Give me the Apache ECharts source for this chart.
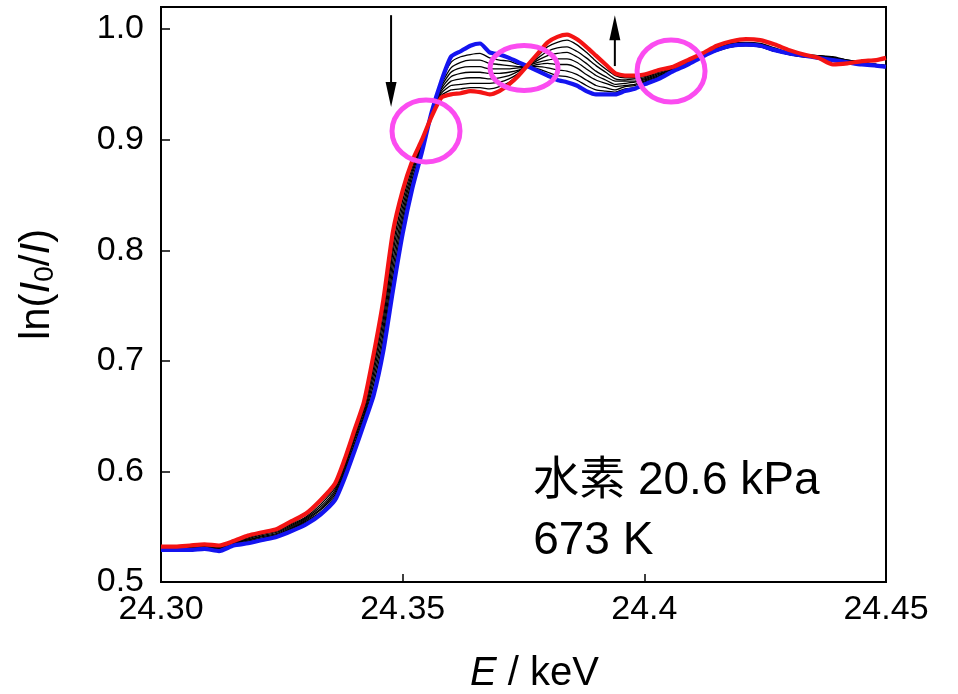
<!DOCTYPE html>
<html>
<head>
<meta charset="utf-8">
<script src="https://cdn.jsdelivr.net/npm/echarts@6/dist/echarts.min.js"></script>
<style>
  html, body { margin: 0; padding: 0; background: #fff; }
  #chart { width: 958px; height: 694px; }
</style>
</head>
<body>
<div id="chart"></div>
<script>
// Photon energy grid (keV)
const energy = [
  24.300, 24.303, 24.306, 24.309, 24.312, 24.315, 24.318, 24.321, 24.324, 24.327, 24.330, 24.333, 24.336,
  24.338, 24.340, 24.342, 24.344, 24.346, 24.348, 24.350, 24.352, 24.354, 24.356,
  24.358, 24.360, 24.362, 24.364, 24.366, 24.368, 24.370, 24.372, 24.374, 24.376,
  24.378, 24.380, 24.382, 24.384, 24.386, 24.388, 24.390, 24.392, 24.394, 24.396,
  24.398, 24.400,
  24.403, 24.406, 24.409, 24.412, 24.415, 24.418, 24.421, 24.424, 24.427, 24.430,
  24.433, 24.436, 24.439, 24.442, 24.445, 24.448, 24.450
];

// ln(I0/I) — first spectrum of the series (blue)
const scan0 = [
  .529, .529, .529, .530, .528, .533, .535, .538, .541, .546, .552, .561, .574,
  .594, .618, .643, .669, .709, .764, .815, .856, .889, .925,
  .953, .975, .980, .985, .987, .979, .977, .974, .970, .966,
  .962, .958, .954, .952, .949, .944, .941, .941, .941, .944,
  .946, .950,
  .955, .962, .968, .975, .981, .985, .986, .985, .981, .978,
  .976, .974, .972, .970, .968, .967, .966
];
// intermediate spectra (black)
const scan1 = [
  .529, .529, .530, .530, .529, .533, .536, .539, .542, .547, .554, .562, .576,
  .597, .620, .645, .674, .714, .770, .820, .859, .890, .924,
  .952, .970, .975, .977, .978, .974, .972, .971, .968, .966,
  .964, .961, .958, .957, .954, .949, .945, .944, .943, .946,
  .947, .951,
  .956, .962, .968, .975, .980, .984, .985, .984, .980, .977,
  .975, .974, .973, .970, .968, .966, .965
];
const scan2 = [
  .530, .529, .530, .531, .529, .534, .536, .539, .542, .548, .555, .563, .577,
  .599, .623, .648, .679, .720, .777, .825, .862, .892, .924,
  .950, .965, .970, .972, .972, .969, .968, .967, .966, .966,
  .966, .965, .963, .962, .959, .954, .949, .947, .945, .948,
  .949, .952,
  .957, .963, .969, .976, .981, .984, .985, .984, .980, .977,
  .975, .975, .973, .971, .968, .967, .966
];
const scan3 = [
  .530, .530, .530, .531, .530, .534, .537, .540, .543, .549, .556, .565, .579,
  .601, .625, .650, .684, .726, .784, .830, .865, .893, .923,
  .948, .961, .965, .966, .966, .964, .964, .964, .965, .966,
  .968, .969, .968, .968, .965, .959, .954, .951, .948, .949,
  .950, .953,
  .958, .963, .969, .976, .981, .985, .986, .985, .981, .978,
  .976, .975, .973, .971, .969, .967, .966
];
const scan4 = [
  .530, .530, .531, .531, .530, .535, .538, .541, .544, .550, .557, .566, .581,
  .603, .628, .652, .689, .732, .791, .835, .869, .895, .923,
  .946, .957, .960, .961, .961, .960, .960, .961, .963, .967,
  .970, .972, .973, .973, .970, .964, .958, .954, .950, .951,
  .952, .954,
  .959, .964, .970, .976, .982, .985, .986, .985, .981, .978,
  .976, .975, .974, .971, .969, .967, .966
];
const scan5 = [
  .530, .530, .531, .532, .531, .535, .538, .542, .545, .551, .558, .568, .583,
  .605, .630, .655, .694, .738, .798, .840, .872, .896, .922,
  .944, .953, .955, .956, .956, .955, .956, .958, .962, .967,
  .972, .976, .978, .979, .975, .969, .962, .957, .953, .953,
  .953, .955,
  .960, .964, .970, .977, .982, .986, .987, .986, .982, .978,
  .976, .976, .974, .972, .970, .968, .967
];
const scan6 = [
  .531, .531, .531, .532, .531, .536, .539, .543, .546, .552, .559, .570, .585,
  .607, .632, .657, .698, .744, .804, .845, .875, .897, .922,
  .942, .949, .950, .951, .951, .951, .952, .955, .960, .967,
  .974, .980, .983, .984, .980, .974, .967, .961, .955, .954,
  .955, .956,
  .961, .965, .971, .977, .983, .986, .987, .986, .982, .979,
  .977, .976, .974, .972, .970, .968, .967
];
const scan7 = [
  .531, .531, .532, .533, .532, .536, .540, .544, .547, .553, .561, .572, .587,
  .609, .635, .660, .702, .750, .811, .850, .878, .899, .921,
  .940, .945, .946, .947, .947, .946, .948, .952, .959, .968,
  .976, .984, .988, .990, .986, .979, .971, .964, .958, .956,
  .956, .957,
  .962, .965, .971, .977, .983, .987, .988, .987, .983, .979,
  .977, .976, .975, .972, .970, .968, .967
];
// last spectrum of the series (red)
const scan8 = [
  .532, .532, .533, .534, .533, .537, .542, .545, .548, .555, .562, .574, .589,
  .611, .637, .663, .706, .755, .817, .854, .881, .900, .921,
  .938, .941, .942, .944, .943, .941, .944, .950, .958, .968,
  .978, .988, .993, .995, .991, .984, .976, .968, .960, .958,
  .958, .959,
  .963, .966, .972, .978, .985, .989, .991, .990, .986, .981,
  .977, .974, .968, .969, .971, .972, .974
];

// axis ticks
const xTickValues = [24.30, 24.35, 24.40, 24.45];
const xTickLabels = ['24.30', '24.35', '24.4', '24.45'];
const yTickLabels = ['0.5', '0.6', '0.7', '0.8', '0.9', '1.0'];

// condition text
const noteLines = ['水素 20.6 kPa', '673 K'];
const noteAnchors = [[24.377, 0.591], [24.377, 0.537]];

// arrows showing the direction of change: [energy, tail value, head value]
const arrows = [[24.3476, 1.0126, 0.9296], [24.3939, 0.9666, 1.0126]];
// crossing points of the spectra: [energy, value]
const rings = [[24.35483, 0.9079], [24.37511, 0.9648], [24.40553, 0.9621]];

const FONT = '"Liberation Sans", Arial, "Noto Sans CJK JP", sans-serif';

const chart = echarts.init(document.getElementById('chart'), null, { renderer: 'canvas' });

const blacks = [scan1, scan2, scan3, scan4, scan5, scan6, scan7];
const series = [];
blacks.forEach((arr, k) => {
  series.push({
    name: 'scan' + (k + 1), type: 'line', showSymbol: false, silent: true, smooth: 0.2,
    data: energy.map((e, i) => [e, arr[i]]),
    lineStyle: { color: '#000', width: 1.3 }, z: 2
  });
});
series.push({
  name: 'scan0', type: 'line', showSymbol: false, silent: true, smooth: 0.2,
  data: energy.map((e, i) => [e, scan0[i]]),
  lineStyle: { color: '#1414f0', width: 4.2 }, z: 3
});
series.push({
  name: 'scan8', type: 'line', showSymbol: false, silent: true, smooth: 0.2,
  data: energy.map((e, i) => [e, scan8[i]]),
  lineStyle: { color: '#f41414', width: 4.2 }, z: 4
});

chart.setOption({
  animation: false,
  backgroundColor: '#fff',
  grid: {
    left: 161, right: 72, top: 7, bottom: 112,
    show: true, borderColor: '#000', borderWidth: 2,
    outerBoundsMode: 'none'
  },
  xAxis: {
    type: 'value', min: 24.30, max: 24.45, interval: 0.05,
    splitLine: { show: false },
    axisLine: { show: true, lineStyle: { color: '#000', width: 2 } },
    axisTick: { show: true, inside: true, length: 8, lineStyle: { color: '#000', width: 1.5 } },
    axisLabel: {
      color: '#000', fontFamily: FONT, fontSize: 34, margin: 11,
      showMinLabel: true, showMaxLabel: true,
      formatter: v => {
        const i = xTickValues.findIndex(t => Math.abs(t - v) < 1e-6);
        return i >= 0 ? xTickLabels[i] : '';
      }
    },
    name: '{i|E}{n| / keV}',
    nameLocation: 'middle', nameGap: 72,
    nameTextStyle: {
      padding: [0, 0, 0, 22],
      rich: {
        i: { fontFamily: FONT, fontSize: 40, fontStyle: 'italic', color: '#000' },
        n: { fontFamily: FONT, fontSize: 40, color: '#000' }
      }
    }
  },
  yAxis: {
    type: 'value', min: 0.5, max: 1.02, interval: 0.1,
    splitLine: { show: false },
    axisLine: { show: true, lineStyle: { color: '#000', width: 2 } },
    axisTick: { show: true, inside: true, length: 9, lineStyle: { color: '#000', width: 1.5 } },
    axisLabel: {
      color: '#000', fontFamily: FONT, fontSize: 34, margin: 17,
      formatter: v => {
        const i = Math.round((v - 0.5) / 0.1);
        return Math.abs(v - (0.5 + i * 0.1)) < 1e-6 && i >= 0 && i < yTickLabels.length ? yTickLabels[i] : '';
      }
    },
    name: '{n|ln(}{i|I}{s|0}{n|/}{i|I}{n|)}',
    nameLocation: 'middle', nameGap: 102, nameRotate: 90,
    nameTextStyle: {
      padding: [0, 0, 0, 20],
      rich: {
        n: { fontFamily: FONT, fontSize: 42, color: '#000' },
        i: { fontFamily: FONT, fontSize: 42, fontStyle: 'italic', color: '#000' },
        s: { fontFamily: FONT, fontSize: 28, color: '#000', verticalAlign: 'bottom', padding: [16, 0, 0, 0] }
      }
    }
  },
  series
});

// annotations anchored in data coordinates
function drawAnnotations() {
  const px = (e, v) => chart.convertToPixel({ gridIndex: 0 }, [e, v]);
  const elements = [];
  rings.forEach(([e, v], k) => {
    const [cx, cy] = px(e, v);
    const r = k === 1 ? [34, 22.5] : [34, 31];
    elements.push({
      type: 'ellipse', silent: true, z: 10,
      shape: { cx, cy, rx: r[0], ry: r[1] },
      style: { fill: 'none', stroke: '#fb4cf0', lineWidth: 5 }
    });
  });
  arrows.forEach(([e, v0, v1]) => {
    const [x, y0] = px(e, v0);
    const [, y1] = px(e, v1);
    const dir = y1 > y0 ? 1 : -1;
    const headLen = 25, halfW = 5.5;
    elements.push({
      type: 'line', silent: true, z: 10,
      shape: { x1: x, y1: y0, x2: x, y2: y1 - dir * headLen + dir * 2 },
      style: { stroke: '#000', lineWidth: 2 }
    });
    elements.push({
      type: 'polygon', silent: true, z: 10,
      shape: { points: [[x - halfW, y1 - dir * headLen], [x + halfW, y1 - dir * headLen], [x, y1]] },
      style: { fill: '#000' }
    });
  });
  noteLines.forEach((t, k) => {
    const [x, y] = px(noteAnchors[k][0], noteAnchors[k][1]);
    elements.push({
      type: 'text', silent: true, z: 10, x, y,
      style: { text: t, fill: '#000', font: '46px ' + FONT, textAlign: 'left', textVerticalAlign: 'middle' }
    });
  });
  chart.setOption({ graphic: elements });
}
drawAnnotations();
</script>
</body>
</html>
